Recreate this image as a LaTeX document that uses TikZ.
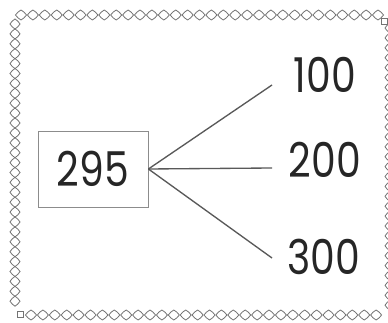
\documentclass[tikz,border=0pt]{standalone}
\usepackage{fontspec}
\newfontfamily\numfont{Poppins}[FakeStretch=0.82]
\tikzset{
  bd/.style={draw=black!55, line width=0.6pt},
  numbox/.style={draw=black!45, line width=0.6pt, minimum width=82.5pt, minimum height=57pt, inner sep=0pt, font=\numfont\fontsize{36}{40}\selectfont, text=black!85},
  lbl/.style={inner sep=0pt, font=\numfont\fontsize{36}{40}\selectfont, text=black!85},
  conn/.style={draw=black!65, line width=1pt}
}
\begin{document}
\begin{tikzpicture}[x=0.75pt,y=-0.75pt]
\useasboundingbox (0,0) rectangle (388,323);
\fill[white] (0,0) rectangle (388,323);
\begin{scope}
\clip (0,0) rectangle (388,323);
% top row
\foreach \i in {0,...,30} {
  \pgfmathsetmacro{\cx}{21+11.9*\i}
  \draw[bd] (\cx-5.5,15) to[bend left=12] (\cx,10) to[bend left=12] (\cx+5.5,15) to[bend left=12] (\cx,20) to[bend left=12] cycle;
}
% bottom row
\foreach \i in {0,...,29} {
  \pgfmathsetmacro{\cx}{31+11.9*\i}
  \draw[bd] (\cx-5.5,315) to[bend left=12] (\cx,310) to[bend left=12] (\cx+5.5,315) to[bend left=12] (\cx,320) to[bend left=12] cycle;
}
% left column
\foreach \i in {0,...,28} {
  \pgfmathsetmacro{\cy}{24+9.9*\i}
  \draw[bd] (10,\cy) to[bend left=12] (15,\cy-5) to[bend left=12] (20,\cy) to[bend left=12] (15,\cy+5) to[bend left=12] cycle;
}
% right column
\foreach \i in {0,...,28} {
  \pgfmathsetmacro{\cy}{28+9.9*\i}
  \draw[bd] (385,\cy) to[bend left=12] (390,\cy-5) to[bend left=12] (395,\cy) to[bend left=12] (390,\cy+5) to[bend left=12] cycle;
}
\draw[bd] (381,18) rectangle (387,24);
\draw[bd] (17,311) rectangle (23,317);
\end{scope}

\node[numbox] (n295) at (93,169) {295};
\node[lbl] (n100) at (325,75) {100};
\node[lbl] (n200) at (325,160) {200};
\node[lbl] (n300) at (324,257) {300};

\coordinate (e1) at (272,85);
\coordinate (e2) at (272,168);
\coordinate (e3) at (272,258);
\draw[conn] (n295.east) -- (e1);
\draw[conn] (n295.east) -- (e2);
\draw[conn] (n295.east) -- (e3);
\end{tikzpicture}
\end{document}
